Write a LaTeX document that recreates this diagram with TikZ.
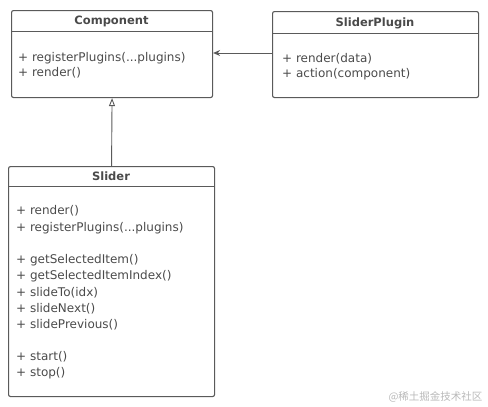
\documentclass[tikz,border=0pt]{standalone}
\usepackage{fontspec}
\setmainfont{DejaVu Sans}
\newfontfamily\cjk{Noto Sans CJK SC}
\usetikzlibrary{positioning,arrows.meta}
\definecolor{umlline}{HTML}{5A5A5A}
\definecolor{umltext}{HTML}{4A4A4A}

\begin{document}
\begin{tikzpicture}[x=1pt,y=-1pt,
  classbox/.style={draw=umlline, line width=1.1pt, rounded corners=2pt, anchor=north west, inner sep=0pt},
  classname/.style={font=\bfseries\fontsize{11.5}{13}\selectfont, text=umltext},
  member/.style={font=\fontsize{12}{13}\selectfont, text=umltext, anchor=base west, inner sep=0pt},
  sep/.style={draw=umlline, line width=0.8pt}]
\useasboundingbox (0,0) rectangle (488,407);

\node[classbox, minimum width=201pt, minimum height=87pt] (component) at (11,10) {};
\node[classname] (componentname) at (111.5,21) {Component};
\draw[sep] (component.west |- 0,31) -- (component.east |- 0,31);
\node[member] at (18,61) {+ registerPlugins(...plugins)};
\node[member] at (18,76.5) {+ render()};

\node[classbox, minimum width=206pt, minimum height=86pt] (plugin) at (272,11) {};
\node[classname] (pluginname) at (375,23) {SliderPlugin};
\draw[sep] (plugin.west |- 0,33) -- (plugin.east |- 0,33);
\node[member] at (282,62) {+ render(data)};
\node[member] at (282,77) {+ action(component)};

\node[classbox, minimum width=206pt, minimum height=230pt] (slider) at (8,166) {};
\node[classname] (slidername) at (111,176) {Slider};
\draw[sep] (slider.west |- 0,186) -- (slider.east |- 0,186);
\foreach \m/\yy in {{+ render()}/214.5, {+ registerPlugins(...plugins)}/231, {+ getSelectedItem()}/263.5,
  {+ getSelectedItemIndex()}/279.5, {+ slideTo(idx)}/296, {+ slideNext()}/312, {+ slidePrevious()}/328,
  {+ start()}/360.5, {+ stop()}/376.5}
\node[member] at (16,\yy) {\m};

\draw[umlline, line width=0.9pt, -{Stealth[length=7pt,width=6pt]}] (plugin.west |- 0,53) -- (component.east |- 0,53);
\draw[umlline, line width=0.9pt, -{Triangle[open,length=8pt,width=6pt]}] (slider.north) -- (component.south);

\node[font=\cjk\fontsize{10.5}{12}\selectfont, text=gray!55, anchor=east] (watermark) at (486,397) {@稀土掘金技术社区};
\end{tikzpicture}
\end{document}
